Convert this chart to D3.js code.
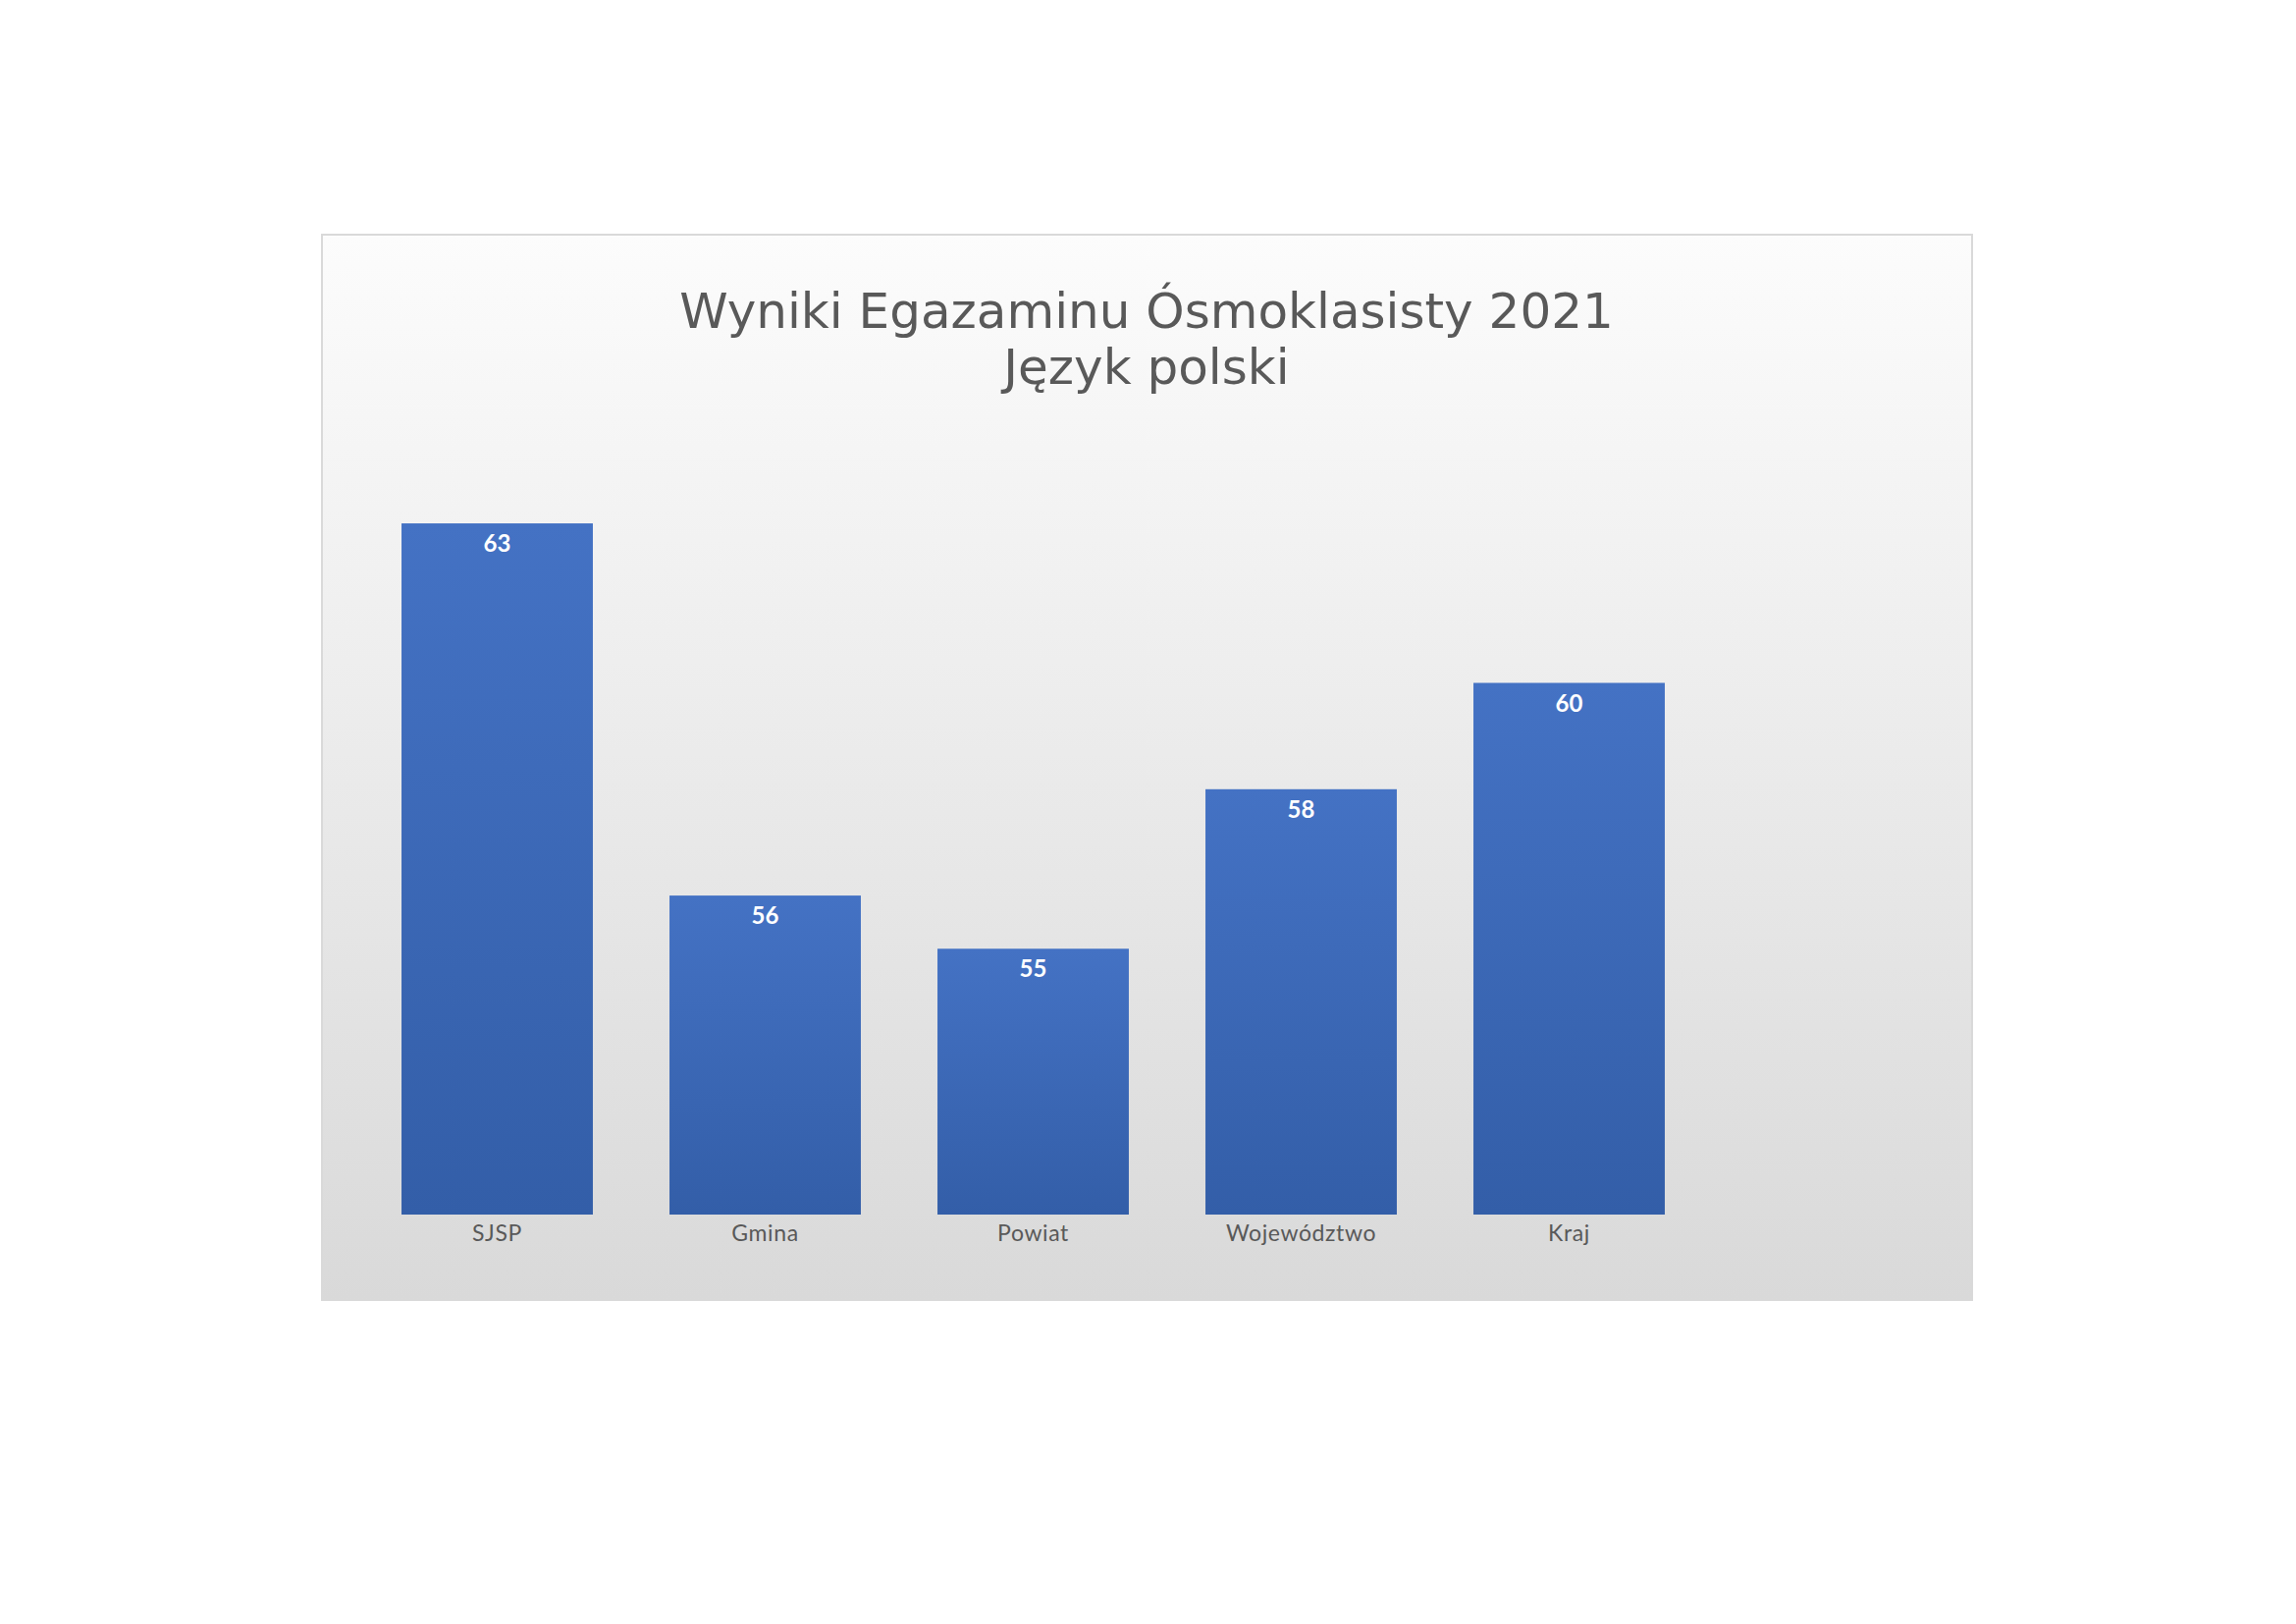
<!DOCTYPE html>
<html><head><meta charset="utf-8">
<script src="https://cdn.jsdelivr.net/npm/d3@7/dist/d3.min.js"></script>
<style>body{margin:0;background:#fff}</style>
</head><body>
<script>
const categories = ["SJSP", "Gmina", "Powiat", "Województwo", "Kraj"];
const values = [63, 56, 55, 58, 60];
const titleLines = ["Wyniki Egazaminu Ósmoklasisty 2021", "Język polski"];
const yDomain = [50, 65];

const W = 2339, H = 1654;
const svg = d3.select("body").append("svg").attr("width", W).attr("height", H);
const defs = svg.append("defs");
const bg = defs.append("linearGradient").attr("id","bg").attr("x1",0).attr("y1",0).attr("x2",0).attr("y2",1);
bg.append("stop").attr("offset","0%").attr("stop-color","#fcfcfc");
bg.append("stop").attr("offset","100%").attr("stop-color","#d9d9d9");
const bar = defs.append("linearGradient").attr("id","bar").attr("x1",0).attr("y1",0).attr("x2",0).attr("y2",1);
bar.append("stop").attr("offset","0%").attr("stop-color","#4472c4");
bar.append("stop").attr("offset","100%").attr("stop-color","#335ea8");

svg.append("rect").attr("x",0).attr("y",0).attr("width",W).attr("height",H).attr("fill","#fff");
svg.append("rect").attr("x",328).attr("y",239).attr("width",1681).attr("height",1085)
  .attr("fill","url(#bg)").attr("stroke","#d9d9d9").attr("stroke-width",2);

const t = svg.append("text").attr("text-anchor","middle").attr("fill","#595959")
  .style("font-family","DejaVu Sans").style("font-size","50px");
titleLines.forEach((l,i)=> t.append("tspan").attr("x",1168).attr("y",334 + i*57).text(l));

const x = d3.scaleBand().domain(categories).range([370, 1735]).paddingInner(0.286).paddingOuter(0.143);
const y = d3.scaleLinear().domain(yDomain).range([1237, 1237 - 15*54.15]);

const data = categories.map((c,i)=>({c, v: values[i]}));
svg.selectAll("rect.bar").data(data).enter().append("rect").attr("class","bar")
  .attr("x", d=>x(d.c)).attr("width", x.bandwidth())
  .attr("y", d=>y(d.v)).attr("height", d=>y(yDomain[0]) - y(d.v))
  .attr("fill","url(#bar)");

svg.selectAll("text.val").data(data).enter().append("text").attr("class","val")
  .attr("x", d=>x(d.c)+x.bandwidth()/2).attr("y", d=>y(d.v)+29)
  .attr("text-anchor","middle").attr("fill","#fff")
  .style("font-family","Lato").style("font-weight","bold").style("font-size","24px")
  .text(d=>d.v);

const ax = d3.axisBottom(x).tickSize(0).tickPadding(0);
const g = svg.append("g").attr("transform",`translate(0,${y(yDomain[0])})`).call(ax);
g.select(".domain").remove();
g.selectAll("text").attr("dy",null).attr("y",27).attr("fill","#595959")
  .style("font-family","Lato").style("font-size","23px").style("letter-spacing","0.6px");
</script>
</body></html>
